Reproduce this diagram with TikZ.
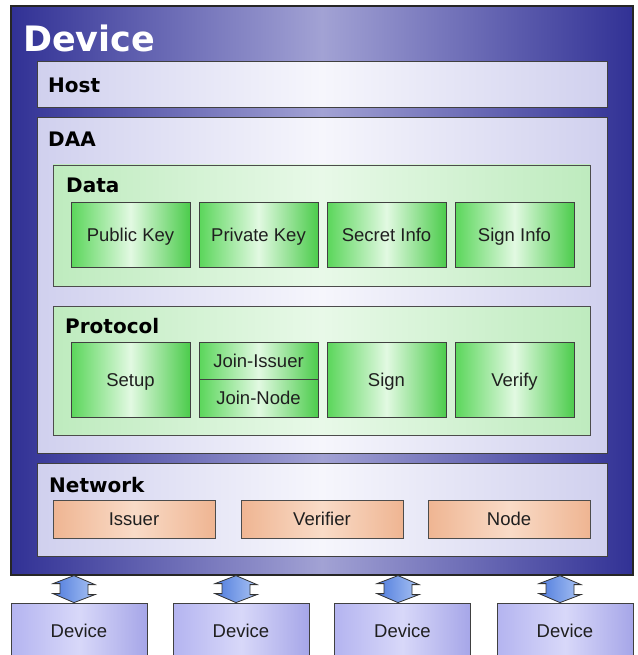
\documentclass[tikz,border=0pt]{standalone}
\usepackage{fontspec}
\setmainfont{Liberation Sans}
\newfontfamily\headfont{DejaVu Sans}
\usetikzlibrary{calc}
\definecolor{outerdark}{HTML}{313195}
\definecolor{outerlight}{HTML}{A2A2D4}
\definecolor{lavL}{HTML}{D0D0EE}
\definecolor{lavM}{HTML}{F6F6FC}
\definecolor{gbL}{HTML}{BEEBBE}
\definecolor{gbM}{HTML}{E8F9E8}
\definecolor{giL}{HTML}{5AD65A}
\definecolor{giM}{HTML}{E2F9E2}
\definecolor{giR}{HTML}{4CCC4C}
\definecolor{peL}{HTML}{EFB592}
\definecolor{peM}{HTML}{F9DBC7}
\definecolor{dvL}{HTML}{B4B4F0}
\definecolor{dvM}{HTML}{D8D8F9}
\definecolor{dvR}{HTML}{A6A6E8}
\definecolor{arL}{HTML}{507CDD}
\definecolor{arR}{HTML}{A8C2F3}
\begin{document}
\begin{tikzpicture}[x=1pt,y=-1pt,
  outerbox/.style={rectangle, draw=black!85, line width=1.2pt, inner sep=0pt,
    left color=outerdark, right color=outerdark, middle color=outerlight},
  lavbox/.style={rectangle, draw=black!75, line width=1pt, inner sep=0pt,
    left color=lavL, right color=lavL, middle color=lavM},
  greenbox/.style={rectangle, draw=black!70, line width=0.8pt, inner sep=0pt,
    left color=gbL, right color=gbL, middle color=gbM},
  itemtext/.style={font=\fontsize{18.5}{20}\selectfont, text=black!88,
    text height=13pt, text depth=0pt},
  item/.style={rectangle, draw=black!75, line width=0.8pt, inner sep=0pt,
    left color=giL, right color=giR, middle color=giM, itemtext},
  netitem/.style={rectangle, draw=black!70, line width=0.8pt, inner sep=0pt,
    left color=peL, right color=peL, middle color=peM, itemtext},
  devbox/.style={rectangle, draw=black!75, line width=0.8pt, inner sep=0pt,
    left color=dvL, right color=dvR, middle color=dvM, itemtext},
  headlabel/.style={font=\headfont\bfseries\fontsize{20}{24}\selectfont,
    anchor=base west, inner sep=0pt, text=black},
  dblarrow/.style={draw=black!80, line width=0.8pt, left color=arL, right color=arR, line join=miter}
]
\useasboundingbox (0,0) rectangle (637,655);
\clip (0,0) rectangle (637,655);

% outer device
\node[outerbox, minimum width=622pt, minimum height=569pt] (dev) at (322,290.5) {};
\node[font=\headfont\bfseries\fontsize{35}{40}\selectfont, text=white,
      anchor=base west, inner sep=0pt] (devtitle) at (23,52) {Device};

% host
\node[lavbox, minimum width=570pt, minimum height=46pt] (host) at (322,85) {};
\node[headlabel] (hostlbl) at (48,93) {Host};

% DAA
\node[lavbox, minimum width=570pt, minimum height=335pt] (daa) at (322,285.5) {};
\node[headlabel] (daalbl) at (48,147) {DAA};

% Data
\node[greenbox, minimum width=537pt, minimum height=121pt] (data) at (321.5,225.5) {};
\node[headlabel] (datalbl) at (66,193) {Data};
\node[item, minimum width=119pt, minimum height=65pt] (pk) at (130.5,234.5) {Public Key};
\node[item, minimum width=119pt, minimum height=65pt] (sk) at (258.5,234.5) {Private Key};
\node[item, minimum width=119pt, minimum height=65pt] (si) at (386.5,234.5) {Secret Info};
\node[item, minimum width=119pt, minimum height=65pt] (sgi) at (514.5,234.5) {Sign Info};

% Protocol
\node[greenbox, minimum width=537pt, minimum height=129pt] (proto) at (321.5,370.5) {};
\node[headlabel] (protolbl) at (65,333) {Protocol};
\node[item, minimum width=119pt, minimum height=75pt] (setup) at (130.5,379.5) {Setup};
\node[item, minimum width=119pt, minimum height=37.5pt] (ji) at (258.5,360.75) {Join-Issuer};
\node[item, minimum width=119pt, minimum height=37.5pt] (jn) at (258.5,398.25) {Join-Node};
\node[item, minimum width=119pt, minimum height=75pt] (sign) at (386.5,379.5) {Sign};
\node[item, minimum width=119pt, minimum height=75pt] (verify) at (514.5,379.5) {Verify};

% Network
\node[lavbox, minimum width=570pt, minimum height=93pt] (net) at (322,509.5) {};
\node[headlabel] (netlbl) at (49,492) {Network};
\node[netitem, minimum width=162pt, minimum height=38pt] (issuer) at (134,519) {Issuer};
\node[netitem, minimum width=162pt, minimum height=38pt] (verifier) at (322,519) {Verifier};
\node[netitem, minimum width=162pt, minimum height=38pt] (nodeitem) at (509,519) {Node};

% bottom devices
\node[devbox, minimum width=136pt, minimum height=56pt] (d1) at (79,631) {Device};
\node[devbox, minimum width=136pt, minimum height=56pt] (d2) at (241,631) {Device};
\node[devbox, minimum width=136pt, minimum height=56pt] (d3) at (402.5,631) {Device};
\node[devbox, minimum width=136pt, minimum height=56pt] (d4) at (565,631) {Device};

% double arrows
\foreach \i/\xc in {1/74,2/236,3/398,4/560}{
  \coordinate (x\i) at (\xc,0);
  \coordinate (t\i) at (x\i |- dev.south);
  \coordinate (b\i) at (x\i |- d\i.north);
  \draw[dblarrow] (t\i) -- ++(21,9) -- ++(-7,0) -- ++(0,10) -- ++(7,0)
     -- (b\i) -- ++(-21,-9) -- ++(7,0) -- ++(0,-10) -- ++(-7,0) -- cycle;
}
\end{tikzpicture}
\end{document}
